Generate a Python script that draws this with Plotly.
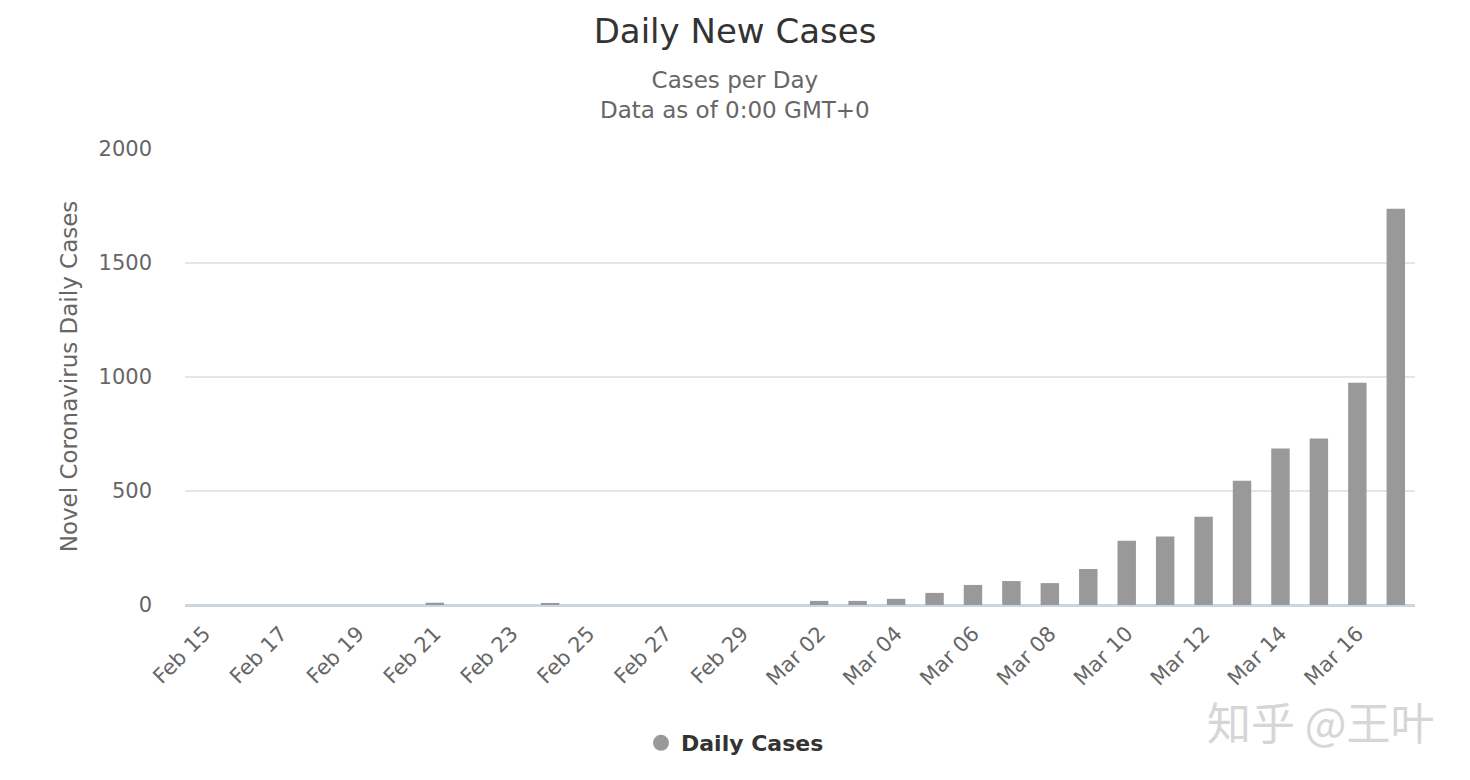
import plotly.graph_objects as go

# categories (one per day) and daily new cases
days = (
    ["Feb %02d" % d for d in range(15, 30)]
    + ["Mar %02d" % d for d in range(1, 18)]
)
daily_cases = [
    0, 0, 0, 0, 0, 0, 10, 0, 0, 9, 0, 0, 0, 0, 0,
    0, 18, 18, 27, 53, 88, 105, 96, 158, 282, 300, 387, 545, 686, 730, 975, 1738,
]
tick_days = days[::2]
y_ticks = [0, 500, 1000, 1500, 2000]

FONT = "DejaVu Sans"
BAR_COLOR = "#999999"
CENTER_X = (735 - 185) / 1230  # page centre, in plot-area units

fig = go.Figure()

fig.add_trace(go.Bar(
    x=days,
    y=daily_cases,
    marker=dict(color=BAR_COLOR, line=dict(width=0)),
    name="Daily Cases",
    showlegend=False,
))

# legend entry with a round symbol, like the original
fig.add_trace(go.Scatter(
    x=[None], y=[None],
    mode="markers",
    marker=dict(symbol="circle", size=22, color=BAR_COLOR),
    name="Daily Cases",
))

fig.update_layout(
    width=1470,
    height=780,
    paper_bgcolor="white",
    plot_bgcolor="white",
    font=dict(family=FONT, color="#666666", size=21),
    title=dict(
        text="Daily New Cases",
        x=0.5, xanchor="center", xref="container",
        y=0.96, yanchor="middle",
        font=dict(family=FONT, size=34, color="#333333"),
    ),
    margin=dict(l=185, r=55, t=148, b=175),
    bargap=0.52,
    showlegend=True,
    legend=dict(
        orientation="h",
        x=CENTER_X, xanchor="center",
        y=-0.302, yanchor="middle",
        font=dict(family=FONT, size=22, color="#333333", weight="bold"),
        itemsizing="trace",
    ),
    xaxis=dict(
        type="category",
        tickmode="array",
        tickvals=tick_days,
        ticktext=tick_days,
        tickangle=-45,
        showgrid=False,
        showline=True,
        linecolor="#ccd6e0",
        linewidth=2,
        ticks="",
        automargin=False,
        tickfont=dict(family=FONT, size=21, color="#666666"),
        ticklabelstandoff=6,
    ),
    yaxis=dict(
        range=[0, 2004],
        tickvals=y_ticks,
        showgrid=True,
        gridcolor="#e6e6e6",
        gridwidth=1.5,
        zeroline=True,
        zerolinecolor="#ccd6e0",
        zerolinewidth=2,
        ticks="",
        automargin=False,
        tickfont=dict(family=FONT, size=21, color="#666666"),
        ticklabelstandoff=32,
        title=dict(
            text="Novel Coronavirus Daily Cases",
            font=dict(family=FONT, size=23, color="#666666"),
            standoff=14,
        ),
    ),
    annotations=[
        dict(
            text="Cases per Day<br>Data as of 0:00 GMT+0",
            xref="paper", yref="paper",
            x=CENTER_X, y=1.05,
            xanchor="center", yanchor="bottom",
            showarrow=False,
            font=dict(family=FONT, size=23, color="#666666"),
        ),
        dict(
            text="知乎 @王叶",
            xref="paper", yref="paper",
            x=1.017, y=-0.18,
            xanchor="right", yanchor="top",
            showarrow=False,
            font=dict(family="Noto Sans CJK SC", size=44, color="#d6d6d6"),
        ),
    ],
)

# the page adds an 8px body margin; remove it so the figure sits at 0,0
fig.write_html(
    "out.html",
    config={"displayModeBar": False},
    post_script="document.body.style.margin='0px';",
)
